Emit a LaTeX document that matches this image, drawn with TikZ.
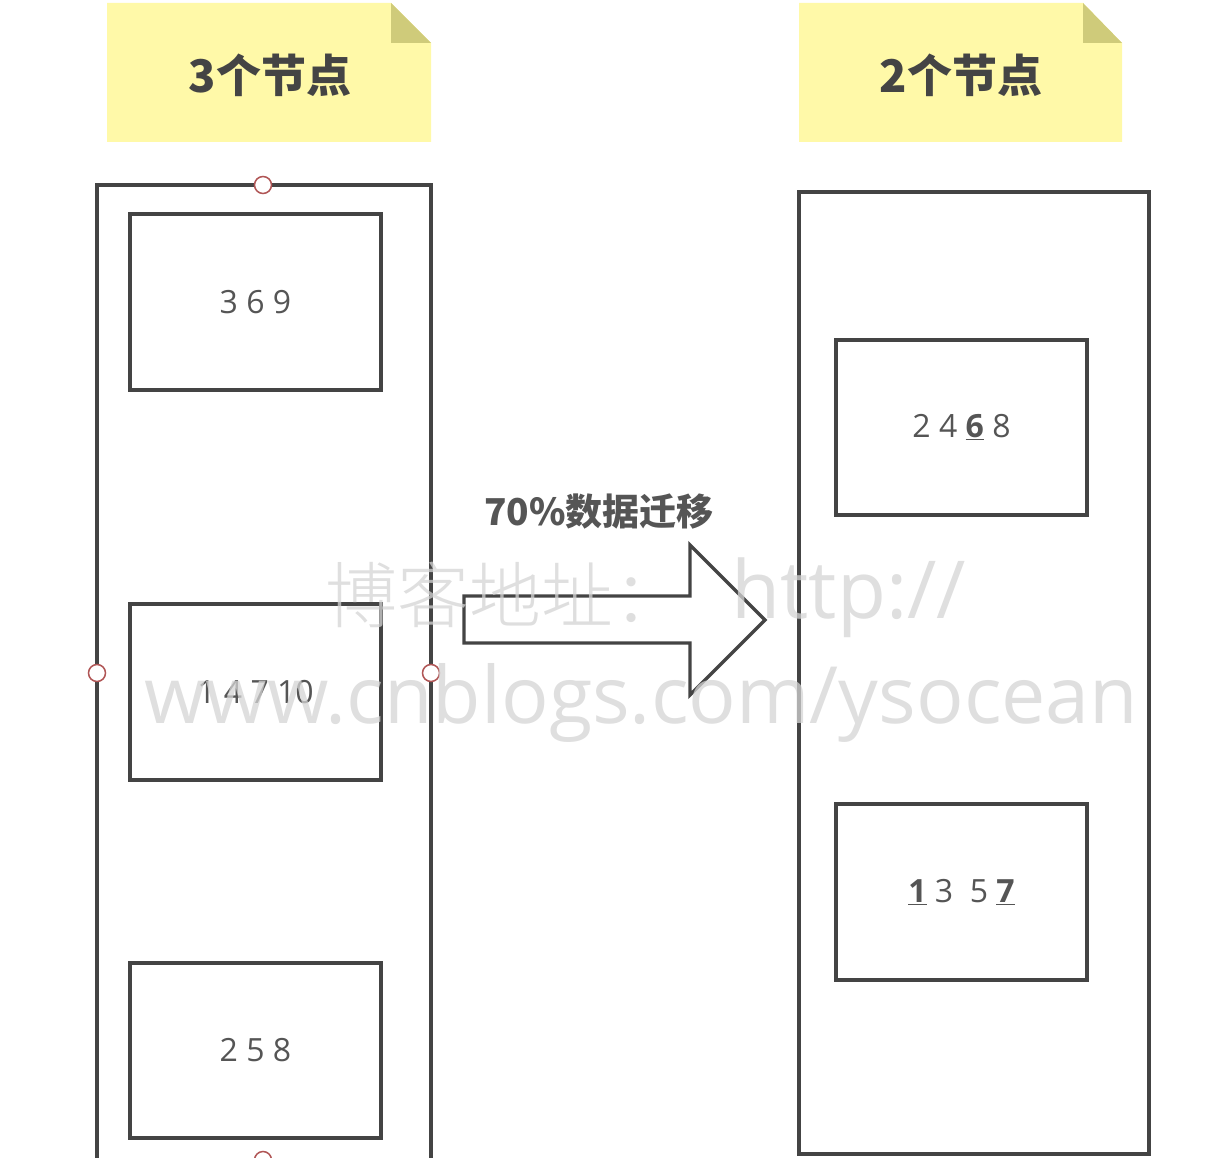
\documentclass[tikz,border=0pt]{standalone}
\usepackage{fontspec}
\newfontfamily\cjkfont{Noto Sans CJK SC}
\newfontfamily\cjklight{Noto Sans CJK SC Light}
\newfontfamily\digitfont{Open Sans}
\definecolor{edge}{HTML}{444444}
\definecolor{txt}{HTML}{555555}
\definecolor{notefill}{HTML}{FFF9A8}
\definecolor{notefold}{HTML}{CFCB7A}
\definecolor{handle}{HTML}{B05555}
\definecolor{mark}{HTML}{D4D4D4}
\begin{document}
\begin{tikzpicture}[x=1pt,y=-1pt,
  container/.style={draw=edge,line width=3.4pt,fill=none},
  shard/.style={draw=edge,line width=3.4pt,rectangle,inner sep=0pt,
    font=\digitfont\fontsize{32}{36}\selectfont,text=txt},
  title/.style={font=\cjkfont\bfseries\fontsize{45}{50}\selectfont,text=edge},
  handlept/.style={circle,draw=handle,fill=white,line width=1.5pt,minimum size=17pt,inner sep=0pt},
]
\useasboundingbox (0,0) rectangle (1218,1158);
\clip (0,0) rectangle (1218,1158);

% sticky notes with folded corners
\fill[notefill] (107,3) -- (391,3) -- (431,43) -- (431,142) -- (107,142) -- cycle;
\fill[notefold] (391,3) -- (431,43) -- (391,43) -- cycle;
\node[title] (t3) at (270,75) {3个节点};

\fill[notefill] (799,3) -- (1083,3) -- (1122,43) -- (1122,142) -- (799,142) -- cycle;
\fill[notefold] (1083,3) -- (1122,43) -- (1083,43) -- cycle;
\node[title] (t2) at (961,75) {2个节点};

% left cluster: three nodes
\draw[container] (97,1175) -- (97,185) -- (431,185) -- (431,1175);
\node[shard,minimum width=251pt,minimum height=176pt] (a1) at (255.5,302) {3 6 9};
\node[shard,minimum width=251pt,minimum height=176pt] (a2) at (255.5,692) {1 4 7 10};
\node[shard,minimum width=251pt,minimum height=175pt] (a3) at (255.5,1050.5) {2 5 8};

% selection handles
\node[handlept] (h1) at (263,185) {};
\node[handlept] (h2) at (97,673) {};
\node[handlept] (h3) at (431,673) {};
\node[handlept] (h4) at (263,1160) {};

% right cluster: two nodes
\draw[container] (799,192) rectangle (1149,1154);
\node[shard,minimum width=251pt,minimum height=175pt] (b1) at (961.5,427.5)
  {2 4 \underline{\textbf{6}} 8};
\node[shard,minimum width=251pt,minimum height=176pt] (b2) at (961.5,892)
  {\underline{\textbf{1}} 3\ \ 5 \underline{\textbf{7}}};

% migration arrow
\draw[draw=edge,line width=3.4pt,line join=miter,fill=white]
  (464,596) -- (690,596) -- (690,545) -- (765,620) -- (690,695) -- (690,643) -- (464,643) -- cycle;
\node[font=\cjkfont\bfseries\fontsize{37}{40}\selectfont,text=txt] (lbl) at (599,512) {70\%数据迁移};

% watermark
\begin{scope}[opacity=0.75]
\node[font=\cjklight\fontsize{72}{80}\selectfont,text=mark,anchor=base west] (w1) at (322,622) {博客地址：};
\node[font=\digitfont\fontsize{80}{88}\selectfont,text=mark,anchor=base west] (w2) at (728,618) {http://};
\node[font=\digitfont\fontsize{79}{88}\selectfont,text=mark,anchor=base west] (w3) at (141,723) {www.cnblogs.com/ysocean};
\end{scope}
\end{tikzpicture}
\end{document}
